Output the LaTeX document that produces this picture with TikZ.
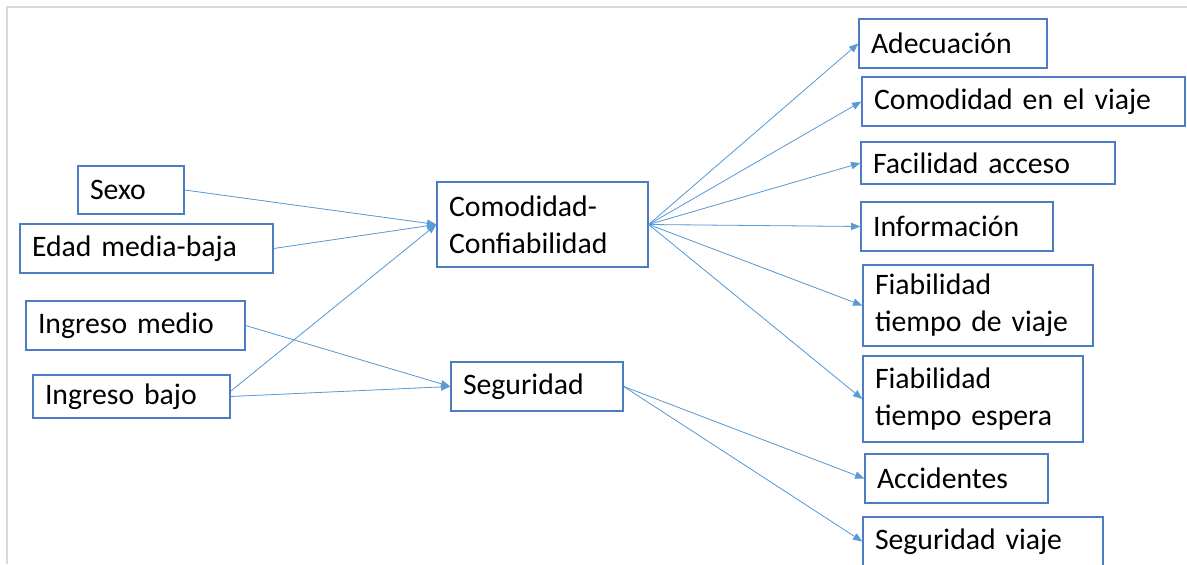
\documentclass[tikz,border=0pt]{standalone}
\usepackage{fontspec}
\setmainfont[WordSpace=0.85]{Carlito}
\usetikzlibrary{arrows.meta}

\definecolor{bordeazul}{RGB}{78,124,196}
\definecolor{flechaazul}{RGB}{91,155,213}
\definecolor{marcogris}{RGB}{217,217,217}

\begin{document}
\begin{tikzpicture}[x=0.75pt, y=-0.75pt,
    >={Triangle[length=7pt,width=5.5pt]},
    caja/.style={draw=bordeazul, line width=1pt, align=left, inner xsep=9pt, inner ysep=0pt,
        font=\fontsize{22.3}{27.5}\selectfont},
    flecha/.style={->, draw=flechaazul, fill=flechaazul, line width=0.6pt}]
    \useasboundingbox (0,0) rectangle (1187,564);
    % thin frame along the top and left edges
    \draw[marcogris, line width=0.8pt] (7,564) -- (7,7) -- (1187,7);

    % left column
    \node[caja, text width=61.5pt, minimum height=36pt] (sexo) at (131,190) {Sexo};
    \node[caja, text width=171.75pt, minimum height=36.75pt] (edad) at (146.5,248.5) {Edad media-baja};
    \node[caja, text width=146.25pt, minimum height=36.75pt] (imedio) at (135.5,325.5) {Ingreso medio};
    \node[caja, text width=129.75pt, minimum height=32.25pt] (ibajo) at (131.5,396.5) {Ingreso bajo};

    % factors
    \node[caja, text width=140.25pt, minimum height=63.75pt] (comod) at (542.5,224.5) {Comodidad-\\Confiabilidad};
    \node[caja, text width=111pt, minimum height=36.75pt] (segur) at (537,386.5) {Seguridad};

    % indicators
    \node[caja, text width=123pt, minimum height=36.75pt] (adec) at (953,43.5) {Adecuación};
    \node[caja, text width=224.25pt, minimum height=36.75pt] (cviaje) at (1023.5,101.5) {Comodidad en el viaje};
    \node[caja, text width=172.5pt, minimum height=31.5pt] (facil) at (988,163) {Facilidad acceso};
    \node[caja, text width=126pt, minimum height=36.75pt] (info) at (957,226.5) {Información};
    \node[caja, text width=154.5pt, minimum height=60.75pt] (ftviaje) at (978,305.5) {Fiabilidad\\tiempo de viaje};
    \node[caja, text width=147pt, minimum height=64.5pt] (ftespera) at (973,399) {Fiabilidad\\tiempo espera};
    \node[caja, text width=119.25pt, minimum height=36.75pt] (accid) at (956.5,478.5) {Accidentes};
    \node[caja, text width=162pt, minimum height=36.75pt] (sviaje) at (983,541.5) {Seguridad viaje};

    % arrows into the factors
    \draw[flecha] (sexo.east) -- (comod.west);
    \draw[flecha] (edad.east) -- (comod.west);
    \draw[flecha] ([yshift=4pt]ibajo.east) -- (comod.west);
    \draw[flecha] (imedio.east) -- (segur.west);
    \draw[flecha] (ibajo.east) -- (segur.west);

    % arrows out to the indicators
    \foreach \dest in {adec, cviaje, facil, info, ftviaje, ftespera}
        \draw[flecha] (comod.east) -- (\dest.west);
    \foreach \dest in {accid, sviaje}
        \draw[flecha] (segur.east) -- (\dest.west);
\end{tikzpicture}
\end{document}
